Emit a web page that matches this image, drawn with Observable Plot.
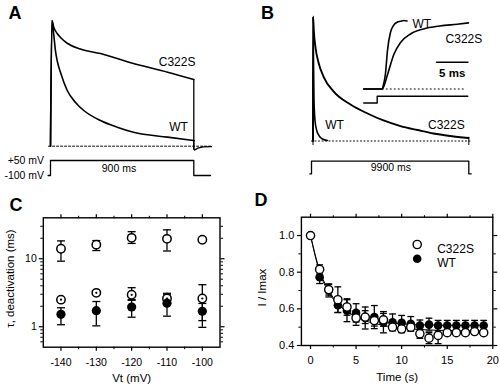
<!DOCTYPE html>
<html><head><meta charset="utf-8">
<script src="https://cdn.jsdelivr.net/npm/d3@7"></script>
<script src="https://cdn.jsdelivr.net/npm/@observablehq/plot@0.6"></script>
<style>
body{margin:0;background:#fff;}
#fig{position:relative;width:500px;height:389px;overflow:hidden;background:#fff;font-family:"Liberation Sans",Arial,Helvetica,sans-serif;}
#fig svg{position:absolute;left:0;top:0;background:transparent !important;overflow:visible;}
.lbl{position:absolute;font-weight:bold;font-size:18px;line-height:18px;color:#000;}
</style></head><body>
<div id="fig">
<div class="lbl" style="left:8.5px;top:3.5px">A</div>
<div class="lbl" style="left:261px;top:3.5px">B</div>
<div class="lbl" style="left:9.5px;top:196px">C</div>
<div class="lbl" style="left:254.5px;top:191px">D</div>
</div>
<script>
// ---------------- Panel A: currents (time ms, normalized current) ----------------
const A_c322s_t = [0, 9, 21, 42, 63, 105, 188, 314, 521, 735, 900];
const A_c322s_i = [0, 1.0, 0.944, 0.897, 0.865, 0.819, 0.773, 0.737, 0.658, 0.589, 0.531];
const A_wt_t = [0, 9, 21, 31, 42, 63, 105, 157, 209, 314, 419, 521, 735, 900];
const A_wt_i = [0, 1.0, 0.88, 0.76, 0.68, 0.586, 0.443, 0.348, 0.284, 0.204, 0.151, 0.111, 0.072, 0.045];
const A_tail_t = [900, 906, 925, 960, 1011];
const A_tail_i = [-0.022, -0.03, -0.015, -0.006, -0.004];
const A_base_t = [-12, 1011];
const A_prot_t = [-15, 0, 0, 900, 900, 1005];
const A_prot_v = [-100, -100, 50, 50, -100, -100];

// ---------------- Panel B: currents ----------------
const B_c322s_t = [0, 5, 51, 159, 349, 667, 1303, 2383, 3463, 4480, 5560, 6640, 7656, 8736, 9880];
const B_c322s_i = [0, 1.0, 0.888, 0.751, 0.631, 0.518, 0.398, 0.293, 0.221, 0.165, 0.120, 0.088, 0.060, 0.040, 0.024];
const B_wt_t = [0, 5, 32, 64, 127, 222, 381, 604, 921];
const B_wt_i = [0, 1.0, 0.647, 0.325, 0.165, 0.092, 0.044, 0.016, 0.004];
const B_base_t = [-95, 10000];
const B_tick_t = [0, 9900];
const B_prot_t = [-203, -95, -95, 9900, 9900, 10053];
const B_prot_v = [-100, -100, 50, 50, -100, -100];
// inset (ms, normalized)
const Bi_wt_t = [-2.14, 0.8, 0.93, 1.32, 1.64, 2.12, 2.6, 3.19, 3.72, 4.24, 4.75];
const Bi_wt_i = [0, 0, 0.036, 0.226, 0.562, 0.829, 0.927, 0.975, 0.988, 1.0, 0.993];
const Bi_c322s_t = [-2.14, 0.8, 1.65, 2.65, 3.72, 5.31, 7.38, 9.99, 12.76, 14.56];
const Bi_c322s_i = [0, 0, 0.212, 0.504, 0.679, 0.803, 0.876, 0.92, 0.946, 0.965];
const Bi_base_t = [0.8, 14.1];
const Bi_prot_t = [-2.14, 0, 0, 14.45];
const Bi_prot_v = [-100, -100, 50, 50];
const Bi_scale_t = [9.46, 14.46]; // 5 ms

// ---------------- Panel C: tau deactivation ----------------
const C_vt = [-140, -130, -120, -110, -100];
const C_slow = [14, 16.1, 20.3, 19.6, 19];
const C_slow_lo = [9.2, 13.2, 16.8, 13, 19];
const C_slow_hi = [18.3, 18.5, 25, 26.6, 19];
const C_fast = [2.5, 3.15, 2.95, 2.6, 2.6];
const C_fast_lo = [2.5, 3.15, 2.45, 2.2, 1.23];
const C_fast_hi = [2.5, 3.15, 3.75, 3.1, 4.15];
const C_wt = [1.52, 1.72, 1.95, 2.22, 1.69];
const C_wt_lo = [1.07, 1.03, 1.38, 1.43, 0.98];
const C_wt_hi = [1.9, 2.35, 2.5, 2.95, 2.2];
const C_xMajor = [-140, -130, -120, -110, -100];
const C_xMinor = [-135, -125, -115, -105];
const C_yMajor = [1, 10];
const C_yMinor = [0.6, 0.7, 0.8, 0.9, 2, 3, 4, 5, 6, 7, 8, 9, 20, 30];

// ---------------- Panel D: recovery ----------------
const D_time = [0,1,2,3,4,5,6,7,8,9,10,11,12,13,14,15,16,17,18,19];
const D_c322s = [1.0, 0.815, 0.705, 0.65, 0.61, 0.55, 0.555, 0.536, 0.54, 0.50, 0.49, 0.50, 0.464, 0.44, 0.455, 0.47, 0.47, 0.47, 0.476, 0.47];
const D_c322s_err = [0, 0.025, 0.03, 0.07, 0.045, 0.04, 0.035, 0.03, 0.035, 0.02, 0.02, 0.02, 0.025, 0.03, 0.045, 0.015, 0.015, 0.015, 0.015, 0.015];
const D_wt = [1.0, 0.773, 0.70, 0.62, 0.59, 0.578, 0.55, 0.555, 0.527, 0.527, 0.524, 0.518, 0.509, 0.514, 0.509, 0.509, 0.509, 0.509, 0.509, 0.509];
const D_wt_err = [0, 0.035, 0.035, 0.04, 0.06, 0.05, 0.06, 0.063, 0.058, 0.045, 0.04, 0.04, 0.03, 0.035, 0.028, 0.028, 0.028, 0.028, 0.028, 0.028];
const D_fitWT = [1.0, 0.80, 0.69, 0.625, 0.585, 0.56, 0.545, 0.535, 0.527, 0.522, 0.518, 0.515, 0.513, 0.512, 0.511, 0.51, 0.51, 0.51, 0.51, 0.51];
const D_fitC322S = [1.0, 0.81, 0.70, 0.63, 0.585, 0.555, 0.535, 0.52, 0.51, 0.50, 0.495, 0.49, 0.487, 0.485, 0.483, 0.482, 0.481, 0.48, 0.48, 0.48];
const D_xMajor = [0, 5, 10, 15, 20];
const D_xMinor = [2.5, 7.5, 12.5, 17.5];
const D_yMajor = [0.4, 0.6, 0.8, 1.0];
const D_yMinor = [0.5, 0.7, 0.9];
const D_legend = ["C322S", "WT"];

// ---------------- helpers ----------------
const FONT = '"Liberation Sans", Arial, Helvetica, sans-serif';
const zip = (xs, ys) => xs.map((x, k) => ({x, y: ys[k]}));
const fig = document.getElementById("fig");
function add(opts) {
  const svg = Plot.plot(Object.assign({
    width: 500, height: 389, margin: 0,
    style: {background: "transparent", fontFamily: FONT, fontSize: "11px", overflow: "visible", color: "black"}
  }, opts));
  fig.appendChild(svg);
}
const cap = {draw(ctx, size) { const w = Math.sqrt(size / Math.PI); ctx.moveTo(-w, 0); ctx.lineTo(w, 0); }};
const lw = 1.6;

// ---------- Panel A traces ----------
add({
  x: {domain: [0, 900], range: [50, 193.3], axis: null},
  y: {domain: [0, 1], range: [145.7, 20], axis: null},
  marks: [
    Plot.line(zip(A_base_t, [0, 0]), {x: "x", y: "y", stroke: "black", strokeWidth: 1, strokeDasharray: "2,2"}),
    Plot.line(zip(A_c322s_t, A_c322s_i), {x: "x", y: "y", curve: "monotone-x", stroke: "black", strokeWidth: lw}),
    Plot.line(zip(A_wt_t, A_wt_i), {x: "x", y: "y", curve: "monotone-x", stroke: "black", strokeWidth: lw}),
    Plot.line(zip([900, ...A_tail_t], [A_c322s_i.at(-1), ...A_tail_i]), {x: "x", y: "y", stroke: "black", strokeWidth: 1.3}),
    Plot.line(zip([900, 900], [A_wt_i.at(-1), A_tail_i[0]]), {x: "x", y: "y", stroke: "black", strokeWidth: 1.3}),
    Plot.text(["C322S"], {x: [795], y: [0.666], text: d => d, fontSize: 12}),
    Plot.text(["WT"], {x: [804], y: [0.151], text: d => d, fontSize: 12})
  ]
});
// ---------- Panel A protocol ----------
add({
  x: {domain: [0, 900], range: [50, 193.3], axis: null},
  y: {domain: [-100, 50], range: [175, 160], axis: null},
  marks: [
    Plot.line(zip(A_prot_t, A_prot_v), {x: "x", y: "y", stroke: "black", strokeWidth: 1.3}),
    Plot.text(["+50 mV"], {x: [A_prot_t[0]], y: [50], dx: -4, textAnchor: "end", text: d => d, fontSize: 10.5}),
    Plot.text(["-100 mV"], {x: [A_prot_t[0]], y: [-100], dx: -4, textAnchor: "end", text: d => d, fontSize: 10.5}),
    Plot.text(["900 ms"], {x: [430], y: [-30], text: d => d, fontSize: 10.5})
  ]
});

// ---------- Panel B traces ----------
add({
  x: {domain: [0, 9900], range: [312.5, 468.3], axis: null},
  y: {domain: [0, 1], range: [140.5, 16], axis: null},
  marks: [
    Plot.line(zip(B_base_t, [0, 0]), {x: "x", y: "y", stroke: "black", strokeWidth: 1, strokeDasharray: "1,2.5"}),
    Plot.ruleX(B_tick_t, {y1: -0.036, y2: 0.03, stroke: "black", strokeWidth: 1}),
    Plot.line(zip(B_c322s_t, B_c322s_i), {x: "x", y: "y", curve: "monotone-x", stroke: "black", strokeWidth: 1.9}),
    Plot.line(zip(B_wt_t, B_wt_i), {x: "x", y: "y", curve: "monotone-x", stroke: "black", strokeWidth: lw}),
    Plot.text(["WT"], {x: [1366], y: [0.125], text: d => d, fontSize: 12}),
    Plot.text(["C322S"], {x: [8471], y: [0.125], text: d => d, fontSize: 12})
  ]
});
// ---------- Panel B protocol ----------
add({
  x: {domain: [0, 9900], range: [312.5, 468.3], axis: null},
  y: {domain: [-100, 50], range: [173.3, 160.7], axis: null},
  marks: [
    Plot.line(zip(B_prot_t, B_prot_v), {x: "x", y: "y", stroke: "black", strokeWidth: 1.3}),
    Plot.text(["9900 ms"], {x: [4950], y: [-30], text: d => d, fontSize: 10.5})
  ]
});
// ---------- Panel B inset ----------
add({
  x: {domain: [0, 15], range: [376.7, 470.75], axis: null},
  y: {domain: [0, 1], range: [88.5, 20], axis: null},
  marks: [
    Plot.line(zip(Bi_base_t, [0, 0]), {x: "x", y: "y", stroke: "black", strokeWidth: 1, strokeDasharray: "1,3"}),
    Plot.line(zip(Bi_c322s_t, Bi_c322s_i), {x: "x", y: "y", curve: "monotone-x", stroke: "black", strokeWidth: lw}),
    Plot.line(zip(Bi_wt_t, Bi_wt_i), {x: "x", y: "y", curve: "monotone-x", stroke: "black", strokeWidth: lw}),
    Plot.line(zip(Bi_scale_t, [0.391, 0.391]), {x: "x", y: "y", stroke: "black", strokeWidth: 1.6}),
    Plot.text(["5 ms"], {x: [d3.mean(Bi_scale_t)], y: [0.236], text: d => d, fontSize: 11.5, fontWeight: "bold"}),
    Plot.text(["WT"], {x: [5.63], y: [0.952], textAnchor: "start", text: d => d, fontSize: 12}),
    Plot.text(["C322S"], {x: [10.9], y: [0.723], textAnchor: "start", text: d => d, fontSize: 12})
  ]
});
add({
  x: {domain: [0, 15], range: [376.7, 470.75], axis: null},
  y: {domain: [-100, 50], range: [102.5, 95.8], axis: null},
  marks: [
    Plot.line(zip(Bi_prot_t, Bi_prot_v), {x: "x", y: "y", stroke: "black", strokeWidth: 1.4})
  ]
});

// ---------- Panel C ----------
const C_rows = C_vt.map((v, k) => ({v, slow: C_slow[k], slowLo: C_slow_lo[k], slowHi: C_slow_hi[k],
  fast: C_fast[k], fastLo: C_fast_lo[k], fastHi: C_fast_hi[k], wt: C_wt[k], wtLo: C_wt_lo[k], wtHi: C_wt_hi[k]}));
function errMarks(rows, x, lo, hi, r) {
  const f = rows.filter(d => d[hi] > d[lo]);
  return [
    Plot.ruleX(f, {x, y1: lo, y2: hi, stroke: "black", strokeWidth: 1.3}),
    Plot.dot(f, {x, y: lo, symbol: cap, r, fill: "none", stroke: "black", strokeWidth: 1.3}),
    Plot.dot(f, {x, y: hi, symbol: cap, r, fill: "none", stroke: "black", strokeWidth: 1.3})
  ];
}
add({
  marginLeft: 42.8, marginRight: 280.5, marginTop: 217.3, marginBottom: 42.3,
  x: {domain: [-145, -95]},
  y: {type: "log", domain: [0.5, 40]},
  marks: [
    Plot.frame({stroke: "black", strokeWidth: 1.4}),
    Plot.axisX(C_xMajor, {anchor: "bottom", tickSize: 4, tickPadding: 7, tickFormat: d => String(d), label: null, fontSize: 10.5, strokeWidth: 1.2}),
    Plot.axisX(C_xMinor, {anchor: "bottom", tickSize: 2.5, fill: "none", label: null}),
    Plot.axisX(C_xMajor, {anchor: "top", tickSize: 4, fill: "none", label: null, strokeWidth: 1.2}),
    Plot.axisX(C_xMinor, {anchor: "top", tickSize: 2.5, fill: "none", label: null}),
    Plot.axisY(C_yMajor, {anchor: "left", tickSize: 4, tickPadding: 2.5, tickFormat: d => String(d), label: null, fontSize: 10.5, strokeWidth: 1.2}),
    Plot.axisY(C_yMinor, {anchor: "left", tickSize: 2.5, fill: "none", label: null}),
    Plot.axisY(C_yMajor, {anchor: "right", tickSize: 4, fill: "none", label: null, strokeWidth: 1.2}),
    Plot.axisY(C_yMinor, {anchor: "right", tickSize: 2.5, fill: "none", label: null}),
    ...errMarks(C_rows, "v", "slowLo", "slowHi", 4),
    ...errMarks(C_rows, "v", "fastLo", "fastHi", 4),
    ...errMarks(C_rows, "v", "wtLo", "wtHi", 4),
    Plot.dot(C_rows, {x: "v", y: "slow", r: 4.2, fill: "white", stroke: "black", strokeWidth: 1.5}),
    Plot.dot(C_rows, {x: "v", y: "fast", r: 4.2, fill: "white", stroke: "black", strokeWidth: 1.5}),
    Plot.dot(C_rows, {x: "v", y: "fast", r: 1.1, fill: "black"}),
    Plot.dot(C_rows, {x: "v", y: "wt", r: 4.6, fill: "black"}),
    Plot.text(["Vt (mV)"], {frameAnchor: "bottom", dy: 35, text: d => d, fontSize: 11.5}),
    Plot.text(["τ, deactivation (ms)"], {x: [-154.3], y: [5.1], rotate: -90, textAnchor: "middle", lineAnchor: "middle", text: d => d, fontSize: 11.5})
  ]
});

// ---------- Panel D ----------
const D_rows = D_time.map((t, k) => ({t, c: D_c322s[k], cLo: D_c322s[k] - D_c322s_err[k], cHi: D_c322s[k] + D_c322s_err[k],
  w: D_wt[k], wLo: D_wt[k] - D_wt_err[k], wHi: D_wt[k] + D_wt_err[k], fw: D_fitWT[k], fc: D_fitC322S[k]}));
add({
  marginLeft: 300.9, marginRight: 7.7, marginTop: 216.7, marginBottom: 44,
  x: {domain: [-1, 20]},
  y: {domain: [0.4, 1.1]},
  marks: [
    Plot.frame({stroke: "black", strokeWidth: 1.4}),
    Plot.axisX(D_xMajor, {anchor: "bottom", tickSize: 4, tickPadding: 6.5, tickFormat: d => String(d), label: null, fontSize: 11, strokeWidth: 1.2}),
    Plot.axisX(D_xMinor, {anchor: "bottom", tickSize: 2.5, fill: "none", label: null}),
    Plot.axisX(D_xMajor, {anchor: "top", tickSize: 4, fill: "none", label: null, strokeWidth: 1.2}),
    Plot.axisX(D_xMinor, {anchor: "top", tickSize: 2.5, fill: "none", label: null}),
    Plot.axisY(D_yMajor, {anchor: "left", tickSize: 4, tickPadding: 3, tickFormat: d3.format(".1f"), label: null, fontSize: 11, strokeWidth: 1.2}),
    Plot.axisY(D_yMinor, {anchor: "left", tickSize: 2.5, fill: "none", label: null}),
    Plot.axisY(D_yMajor, {anchor: "right", tickSize: 4, fill: "none", label: null, strokeWidth: 1.2}),
    Plot.axisY(D_yMinor, {anchor: "right", tickSize: 2.5, fill: "none", label: null}),
    ...errMarks(D_rows, "t", "wLo", "wHi", 3.4),
    ...errMarks(D_rows, "t", "cLo", "cHi", 3.4),
    Plot.line(D_rows, {x: "t", y: "fw", curve: "monotone-x", stroke: "black", strokeWidth: 1}),
    Plot.line(D_rows, {x: "t", y: "fc", curve: "monotone-x", stroke: "black", strokeWidth: 1}),
    Plot.dot(D_rows, {x: "t", y: "w", r: 4.3, fill: "black"}),
    Plot.dot(D_rows, {x: "t", y: "c", r: 4.1, fill: "white", stroke: "black", strokeWidth: 1.4}),
    Plot.dot([D_legend[0]], {frameAnchor: "top-left", dx: 115.8, dy: 27.3, r: 4.1, fill: "white", stroke: "black", strokeWidth: 1.4}),
    Plot.dot([D_legend[1]], {frameAnchor: "top-left", dx: 115.8, dy: 41.6, r: 4.3, fill: "black"}),
    Plot.text([D_legend[0]], {frameAnchor: "top-left", dx: 135.8, dy: 27.3, textAnchor: "start", text: d => d, fontSize: 12}),
    Plot.text([D_legend[1]], {frameAnchor: "top-left", dx: 135.8, dy: 41.6, textAnchor: "start", text: d => d, fontSize: 12}),
    Plot.text(["Time (s)"], {frameAnchor: "bottom", dy: 35, text: d => d, fontSize: 11.5}),
    Plot.text(["I / Imax"], {x: [-5.32], y: [0.716], rotate: -90, textAnchor: "middle", lineAnchor: "middle", text: d => d, fontSize: 11.5})
  ]
});
</script>
</body></html>
